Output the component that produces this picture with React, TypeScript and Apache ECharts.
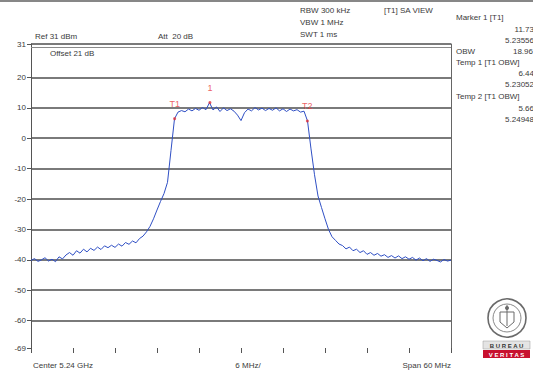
import React, { useEffect, useRef } from "react";
import * as echarts from "echarts";

// Sweep: -30 MHz .. +30 MHz around 5.24 GHz, 0.5 MHz per point
const sweepStartMHz = -30;
const sweepStepMHz = 0.5;
const traceLevels = [
  -40.2, -39.6, -40.5, -40.0, -39.3, -40.4, -39.8, -40.6, -39.0, -39.7,
  -38.4, -37.6, -38.5, -37.0, -37.8, -36.5, -37.4, -36.2, -36.9, -35.8,
  -36.6, -35.4, -36.0, -35.2, -35.9, -34.8, -35.5, -34.3, -34.9, -33.8,
  -34.4, -33.0, -32.2, -30.8, -29.0, -26.5, -23.6, -20.8, -18.2, -14.5,
  -4.0, 6.4, 8.6, 9.1, 8.7, 9.6, 9.0, 9.8, 9.2, 10.1,
  9.4, 11.7, 9.3, 10.3, 8.8, 10.0, 9.1, 9.7, 8.9, 7.6,
  5.8, 8.4, 9.6, 9.0, 10.1, 9.3, 9.9, 9.1, 9.8, 9.2,
  10.0, 9.0, 9.7, 8.8, 9.6, 9.0, 9.4, 8.6, 8.9, 5.7,
  -3.5, -12.0, -19.0, -22.8, -26.5, -30.0, -32.4, -33.6, -34.8, -35.3,
  -36.4, -35.8, -37.0, -36.5, -37.6, -37.0, -38.2, -37.6, -38.5, -37.9,
  -38.8, -38.3, -39.2, -38.6, -39.4, -38.7, -39.6, -39.0, -39.8, -39.2,
  -40.1, -39.4, -40.3, -39.6, -40.5, -39.8, -40.2, -40.7, -39.9, -40.4,
  -40.1,
];

const yTickValues = [-69, -60, -50, -40, -30, -20, -10, 0, 10, 20, 31];
const displayLineLevel = 30;

const markerNames = ["T1", "1", "T2"];
const markerFreqs = [-9.48, -4.44, 9.48];
const markerLevels = [6.44, 11.73, 5.66];

const headerLeft = ["Ref 31 dBm", "Att  20 dB", "Offset 21 dB"];
const headerMid = ["RBW 300 kHz", "VBW 1 MHz", "SWT 1 ms"];
const viewLabel = "[T1] SA VIEW";
const sidePanel: [string, "l" | "r"][] = [
  ["Marker 1 [T1]", "l"],
  ["11.73", "r"],
  ["5.23556", "r"],
  ["OBW", "l"],
  ["Temp 1 [T1 OBW]", "l"],
  ["6.44", "r"],
  ["5.23052", "r"],
  ["Temp 2 [T1 OBW]", "l"],
  ["5.66", "r"],
  ["5.24948", "r"],
];
const obwValue = "18.96";
const footerTexts = ["Center 5.24 GHz", "6 MHz/", "Span 60 MHz"];

const FONT = "'Liberation Sans', Arial, sans-serif";
const TXT = "#3a3a3a";

export default function App() {
  const ref = useRef<HTMLDivElement>(null);
  useEffect(() => {
    if (!ref.current) return;
    const chart = echarts.init(ref.current, undefined, { renderer: "svg" });
    const traceData = traceLevels.map((v, i) => [sweepStartMHz + i * sweepStepMHz, v]);
    const markerData = markerFreqs.map((f, i) => ({ value: [f, markerLevels[i]], name: markerNames[i] }));

    const txt = (x: number, y: number, text: string, align: string = "left", extra: any = {}) => ({
      type: "text",
      x,
      y,
      silent: true,
      style: { text, fill: TXT, font: `8px ${FONT}`, textAlign: align, textVerticalAlign: "middle", ...extra },
    });

    const sideY = [17, 29, 40, 51, 62, 73, 84, 96, 108, 119];
    const graphics: any[] = [
      { type: "line", shape: { x1: 0, y1: 1, x2: 533, y2: 1 }, style: { stroke: "#111", lineWidth: 1.2 } },
      txt(35, 36, headerLeft[0]),
      txt(158, 36, headerLeft[1]),
      txt(50, 53, headerLeft[2]),
      txt(300, 10, headerMid[0]),
      txt(300, 22, headerMid[1]),
      txt(300, 34, headerMid[2]),
      txt(384, 10, viewLabel),
      txt(33, 365, footerTexts[0]),
      txt(248, 365, footerTexts[1], "center"),
      txt(451, 365, footerTexts[2], "right"),
      txt(533, 51, obwValue, "right"),
    ];
    sidePanel.forEach(([t, a], i) => {
      graphics.push(a === "l" ? txt(456, sideY[i], t) : txt(534, sideY[i], t, "right"));
    });
    // Bureau Veritas logo
    graphics.push({
      type: "group",
      silent: true,
      children: [
        { type: "circle", shape: { cx: 507, cy: 318, r: 19 }, style: { fill: "#fff", stroke: "#6a6a6a", lineWidth: 1.6 } },
        { type: "circle", shape: { cx: 507, cy: 318, r: 14 }, style: { fill: "none", stroke: "#8a8a8a", lineWidth: 1 } },
        { type: "polygon", shape: { points: [[500, 312], [514, 312], [514, 322], [507, 328], [500, 322]] }, style: { fill: "none", stroke: "#6a6a6a", lineWidth: 1 } },
        { type: "line", shape: { x1: 507, y1: 305, x2: 507, y2: 326 }, style: { stroke: "#6a6a6a", lineWidth: 1 } },
        { type: "circle", shape: { cx: 507, cy: 308, r: 2 }, style: { fill: "#6a6a6a" } },
        { type: "rect", shape: { x: 483, y: 341, width: 47, height: 8 }, style: { fill: "#e4e4e4", stroke: "#9a9a9a", lineWidth: 0.5 } },
        { type: "text", x: 506.5, y: 345.5, style: { text: "B U R E A U", fill: "#333", font: `bold 6px ${FONT}`, textAlign: "center", textVerticalAlign: "middle" } },
        { type: "rect", shape: { x: 483, y: 350, width: 47, height: 8 }, style: { fill: "#c8102e" } },
        { type: "text", x: 506.5, y: 354.5, style: { text: "V E R I T A S", fill: "#fff", font: `bold 6px ${FONT}`, textAlign: "center", textVerticalAlign: "middle" } },
      ],
    });

    chart.setOption({
      animation: false,
      backgroundColor: "#ffffff",
      grid: { left: 31, top: 44, width: 420, height: 304, containLabel: false },
      xAxis: {
        type: "value",
        min: -30,
        max: 30,
        interval: 6,
        axisLine: { show: false, onZero: false },
        axisTick: { show: true, length: 5, lineStyle: { color: "#555", width: 1 } },
        axisLabel: { show: false },
        splitLine: { show: false },
      },
      yAxis: [
        {
          type: "value",
          min: -69,
          max: 31,
          axisLine: { show: true, onZero: false, lineStyle: { color: "#555", width: 1 } },
          axisTick: { show: true, length: 4, customValues: yTickValues, lineStyle: { color: "#555" } },
          axisLabel: { show: true, customValues: yTickValues, fontSize: 8, color: TXT, fontFamily: FONT, margin: 5 },
          splitLine: { show: true, showMinLine: false, lineStyle: { color: "#7a7a7a", width: 2 } },
        },
        {
          type: "value",
          min: -69,
          max: 31,
          position: "right",
          axisLine: { show: true, onZero: false, lineStyle: { color: "#666", width: 1 } },
          axisTick: { show: false },
          axisLabel: { show: false },
          splitLine: { show: false },
        },
      ],
      graphic: graphics,
      series: [
        {
          type: "line",
          data: traceData,
          showSymbol: false,
          symbol: "none",
          lineStyle: { color: "#2f4fc4", width: 1 },
          markLine: {
            silent: true,
            symbol: "none",
            label: { show: false },
            lineStyle: { color: "#8a8a8a", width: 1.2, type: "solid" },
            data: [{ yAxis: displayLineLevel }],
          },
          z: 3,
        },
        {
          type: "scatter",
          data: markerData,
          symbol: "circle",
          symbolSize: 3,
          itemStyle: { color: "#e0303a" },
          label: {
            show: true,
            position: "top",
            distance: 9,
            formatter: (p: any) => p.name,
            color: "#e8383d",
            fontSize: 9,
            fontFamily: FONT,
          },
          z: 4,
        },
      ],
    });
    return () => chart.dispose();
  }, []);
  return <div ref={ref} style={{ position: "fixed", left: 0, top: 0, width: 533, height: 371 }} />;
}
